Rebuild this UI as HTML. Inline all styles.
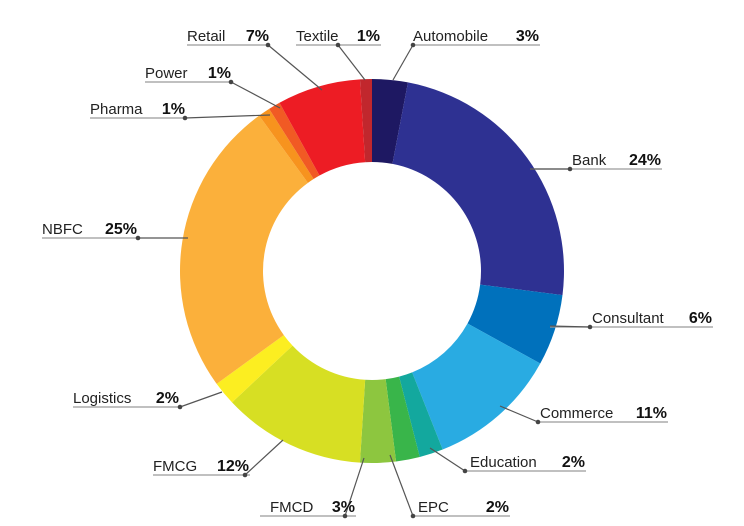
<!DOCTYPE html>
<html><head><meta charset="utf-8"><style>
html,body{margin:0;padding:0;background:#fff;}
svg{display:block;font-family:"Liberation Sans",sans-serif;}
.lab{font-size:15px;fill:#222;}
.pct{font-size:16px;font-weight:bold;fill:#111;}
</style></head><body>
<svg id="chart" width="744" height="526" viewBox="0 0 744 526"></svg>
<script>
const categories=["Automobile","Bank","Consultant","Commerce","Education","EPC","FMCD","FMCG","Logistics","NBFC","Pharma","Power","Retail","Textile"];
const values=[3,24,6,11,2,2,3,12,2,25,1,1,7,1];
const colors=["#1e1862","#2e3192","#0071bc","#29abe2","#13a89e","#39b54a","#8dc63f","#d7df23","#fcee21","#fbb03b","#f7931e","#f15a24","#ed1c24","#c1272d"];
// label layout: text x, underline y, underline x1, x2, dot x, leader end x,y
const layout={
Automobile:[413,45,413,540,413,393,80],
Bank:[572,169,530,662,570,530,169],
Consultant:[592,327,550,713,590,550,326],
Commerce:[540,422,538,668,538,500,406],
Education:[470,471,465,586,465,430,448],
EPC:[418,516,413,510,413,390,455],
FMCD:[270,516,260,356,345,364,458],
FMCG:[153,475,153,250,245,283,440],
Logistics:[73,407,73,180,180,222,392],
NBFC:[42,238,42,138,138,188,238],
Pharma:[90,118,90,186,185,270,115],
Power:[145,82,145,232,231,280,108],
Retail:[187,45,187,270,268,322,90],
Textile:[296,45,296,381,338,365,80]
};
const svg=document.getElementById('chart');
const NS="http://www.w3.org/2000/svg";
const cx=372,cy=271,R=192,r=109;
const total=values.reduce((a,b)=>a+b,0);
function pt(a,rad){return [cx+rad*Math.sin(a),cy-rad*Math.cos(a)];}
let acc=0;
values.forEach((v,i)=>{
  const a0=acc/total*2*Math.PI;acc+=v;const a1=acc/total*2*Math.PI;
  const [x0,y0]=pt(a0,R),[x1,y1]=pt(a1,R),[x2,y2]=pt(a1,r),[x3,y3]=pt(a0,r);
  const lg=(a1-a0)>Math.PI?1:0;
  const p=document.createElementNS(NS,'path');
  p.setAttribute('d',`M${x0},${y0}A${R},${R} 0 ${lg} 1 ${x1},${y1}L${x2},${y2}A${r},${r} 0 ${lg} 0 ${x3},${y3}Z`);
  p.setAttribute('fill',colors[i]);
  
  
  svg.appendChild(p);
});
categories.forEach((c,i)=>{
  const L=layout[c];
  const g=document.createElementNS(NS,'g');
  
  
  const ul=document.createElementNS(NS,'line');
  ul.setAttribute('x1',L[2]);ul.setAttribute('x2',L[3]);ul.setAttribute('y1',L[1]);ul.setAttribute('y2',L[1]);
  ul.setAttribute('stroke','#9a9a9a');ul.setAttribute('stroke-width','1.3');
  g.appendChild(ul);
  const ld=document.createElementNS(NS,'line');
  ld.setAttribute('x1',L[4]);ld.setAttribute('y1',L[1]);ld.setAttribute('x2',L[5]);ld.setAttribute('y2',L[6]);
  ld.setAttribute('stroke','#555');ld.setAttribute('stroke-width','1.2');
  g.appendChild(ld);
  const d=document.createElementNS(NS,'circle');
  d.setAttribute('cx',L[4]);d.setAttribute('cy',L[1]);d.setAttribute('r','2.3');d.setAttribute('fill','#444');
  g.appendChild(d);
  const t1=document.createElementNS(NS,'text');
  t1.setAttribute('x',L[0]);t1.setAttribute('y',L[1]-4);
  t1.setAttribute('class','lab');
  t1.textContent=c;
  g.appendChild(t1);
  const t2=document.createElementNS(NS,'text');
  t2.setAttribute('x',L[3]-1);t2.setAttribute('y',L[1]-4);
  t2.setAttribute('text-anchor','end');
  t2.setAttribute('class','pct');
  t2.textContent=values[i]+'%';
  g.appendChild(t2);
  svg.appendChild(g);
});
</script>
</body></html>
